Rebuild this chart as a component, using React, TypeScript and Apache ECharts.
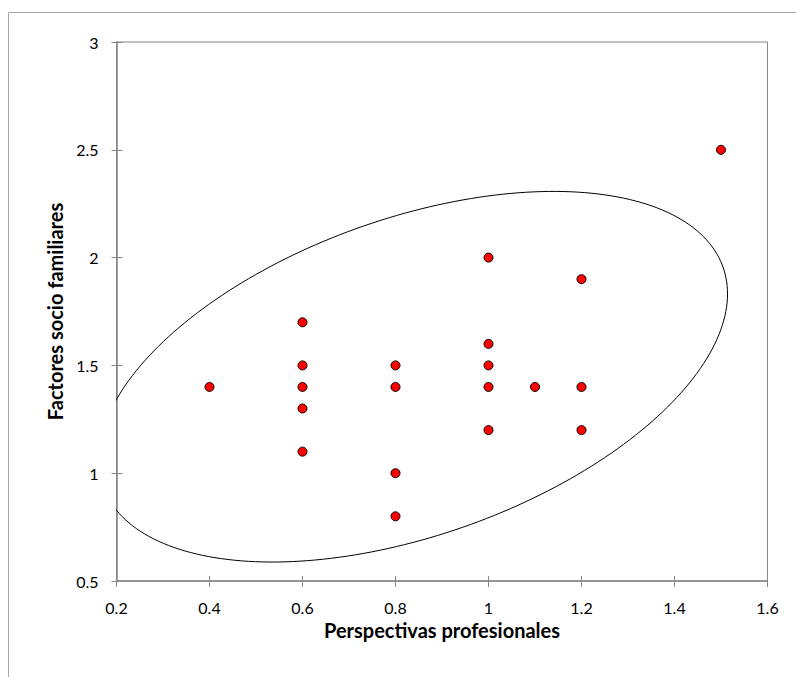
import React, { useEffect, useRef } from "react";
import * as echarts from "echarts";

const xTitle = "Perspectivas profesionales";
const yTitle = "Factores socio familiares";

const perspectivas = [0.4, 0.6, 0.6, 0.6, 0.6, 0.6, 0.8, 0.8, 0.8, 0.8, 1.0, 1.0, 1.0, 1.0, 1.0, 1.1, 1.2, 1.2, 1.2, 1.5];
const factores = [1.4, 1.7, 1.5, 1.4, 1.3, 1.1, 1.5, 1.4, 1.0, 0.8, 2.0, 1.6, 1.5, 1.4, 1.2, 1.4, 1.9, 1.4, 1.2, 2.5];

// confidence ellipse: centre and covariance-like shape matrix
const ellipseCenter = [0.8375, 1.4475];
const ellipseShape = [0.4577, 0.260, 0.7387]; // sxx, sxy, syy

const xMin = 0.2, xMax = 1.6, xStep = 0.2;
const yMin = 0.5, yMax = 3, yStep = 0.5;

const FONT = "Lato, 'Open Sans', sans-serif";

export default function App() {
  const ref = useRef<HTMLDivElement>(null);
  useEffect(() => {
    if (!ref.current) return;
    const chart = echarts.init(ref.current, null, { renderer: "svg" });
    const [sxx, sxy, syy] = ellipseShape;
    const a = Math.sqrt(sxx);
    const c = sxy / a;
    const d = Math.sqrt(syy - c * c);
    const axisColor = "#868686";
    const baseX = {
      type: "value", min: xMin, max: xMax, interval: xStep,
      splitLine: { show: false },
    };
    const baseY = {
      type: "value", min: yMin, max: yMax, interval: yStep,
      splitLine: { show: false },
    };
    chart.setOption({
      animation: false,
      textStyle: { fontFamily: FONT },
      grid: {
        left: 116.5, top: 42, right: 28.5, bottom: 96,
        show: true, borderColor: axisColor, borderWidth: 1,
      },
      graphic: [
        {
          type: "rect", shape: { x: 8.5, y: 12.5, width: 820, height: 700 },
          style: { fill: "none", stroke: "#a6a6a6", lineWidth: 1 }, z: -10,
        },
      ],
      xAxis: [
        {
          ...baseX,
          name: xTitle, nameLocation: "middle", nameGap: 38,
          nameTextStyle: { fontFamily: FONT, fontSize: 20, fontWeight: "bold", color: "#000" },
          axisLine: { show: true, lineStyle: { color: axisColor, width: 1.5 } },
          axisTick: { show: true, inside: false, length: 6, lineStyle: { color: axisColor } },
          axisLabel: { fontFamily: FONT, fontSize: 16, color: "#000", margin: 18 },
        },
        {
          ...baseX, position: "bottom",
          axisLine: { show: false },
          axisTick: { show: true, inside: true, length: 5, lineStyle: { color: axisColor } },
          axisLabel: { show: false },
        },
      ],
      yAxis: [
        {
          ...baseY,
          name: yTitle, nameLocation: "middle", nameGap: 49,
          nameTextStyle: { fontFamily: FONT, fontSize: 20, fontWeight: "bold", color: "#000" },
          axisLine: { show: true, lineStyle: { color: axisColor, width: 1.5 } },
          axisTick: { show: true, inside: false, length: 5, lineStyle: { color: axisColor } },
          axisLabel: { fontFamily: FONT, fontSize: 16, color: "#000", margin: 18 },
        },
        {
          ...baseY, position: "left",
          axisLine: { show: false },
          axisTick: { show: true, inside: true, length: 6, lineStyle: { color: axisColor } },
          axisLabel: { show: false },
        },
      ],
      series: [
        {
          type: "custom",
          clip: true,
          silent: true,
          z: 1,
          data: [ellipseCenter],
          renderItem: (_params: any, api: any) => {
            const cx = api.value(0);
            const cy = api.value(1);
            const pts: number[][] = [];
            const n = 240;
            for (let i = 0; i <= n; i++) {
              const t = (i / n) * Math.PI * 2;
              const ct = Math.cos(t), st = Math.sin(t);
              pts.push(api.coord([cx + a * ct, cy + c * ct + d * st]));
            }
            return {
              type: "polyline",
              shape: { points: pts },
              style: { fill: "none", stroke: "#000", lineWidth: 1 },
            };
          },
        },
        {
          type: "scatter",
          z: 3,
          symbol: "circle",
          symbolSize: 9,
          itemStyle: { color: "#ff0000", borderColor: "#000", borderWidth: 1, opacity: 1 },
          data: perspectivas.map((x, i) => [x, factores[i]]),
        },
      ],
    });
    return () => chart.dispose();
  }, []);
  return (
    <div
      ref={ref}
      style={{ position: "absolute", left: 0, top: 0, width: 796, height: 677, background: "#fff" }}
    />
  );
}
